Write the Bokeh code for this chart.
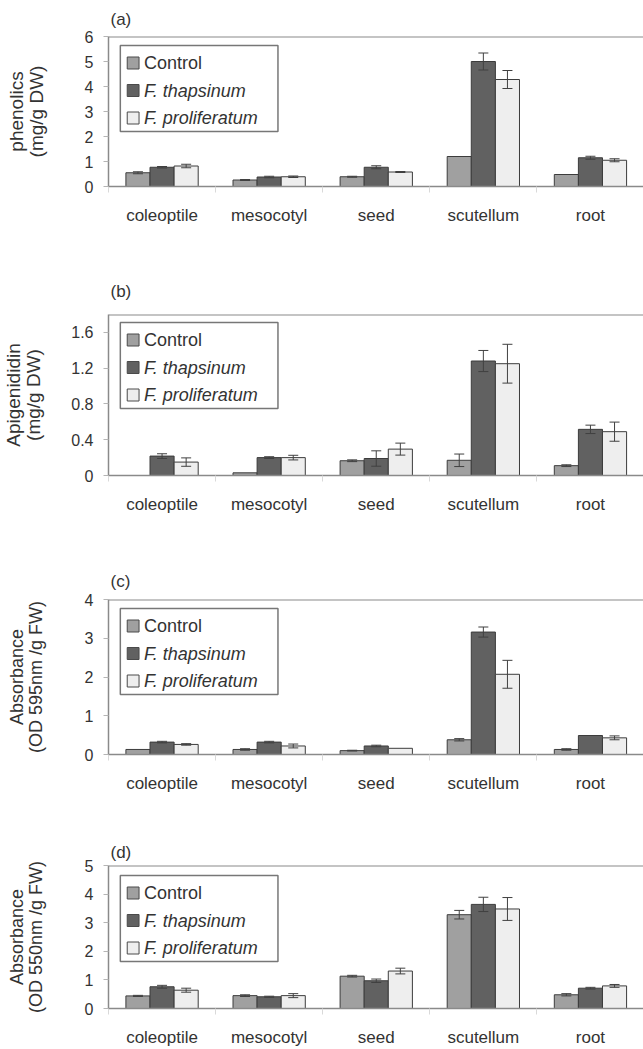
import numpy as np
from bokeh.plotting import figure
from bokeh.models import (ColumnDataSource, Range1d, FixedTicker, Whisker, TeeHead, Span)
from bokeh.core.properties import value
from bokeh.layouts import column
from bokeh.embed import file_html
from bokeh.resources import INLINE

# ---------------- data ----------------
categories = ["coleoptile", "mesocotyl", "seed", "scutellum", "root"]
series_names = ["Control", "F. thapsinum", "F. proliferatum"]

# (a) phenolics (mg/g DW)
a_control = [0.55, 0.26, 0.39, 1.20, 0.48]
a_control_err = [0.04, 0.02, 0.02, 0.0, 0.0]
a_thap = [0.77, 0.38, 0.77, 5.00, 1.15]
a_thap_err = [0.03, 0.03, 0.06, 0.34, 0.06]
a_prolif = [0.82, 0.39, 0.58, 4.28, 1.05]
a_prolif_err = [0.07, 0.03, 0.02, 0.36, 0.06]

# (b) Apigenididin (mg/g DW)
b_control = [0.0, 0.03, 0.165, 0.17, 0.11]
b_control_err = [0.0, 0.0, 0.01, 0.07, 0.01]
b_thap = [0.217, 0.20, 0.19, 1.28, 0.516]
b_thap_err = [0.026, 0.01, 0.086, 0.118, 0.047]
b_prolif = [0.15, 0.20, 0.295, 1.25, 0.49]
b_prolif_err = [0.047, 0.026, 0.067, 0.217, 0.107]

# (c) Absorbance (OD 595nm /g FW)
c_control = [0.13, 0.13, 0.10, 0.38, 0.13]
c_control_err = [0.0, 0.02, 0.01, 0.03, 0.02]
c_thap = [0.32, 0.32, 0.22, 3.16, 0.49]
c_thap_err = [0.02, 0.02, 0.02, 0.13, 0.0]
c_prolif = [0.26, 0.22, 0.16, 2.07, 0.43]
c_prolif_err = [0.02, 0.05, 0.0, 0.36, 0.05]

# (d) Absorbance (OD 550nm /g FW)
d_control = [0.44, 0.45, 1.13, 3.28, 0.48]
d_control_err = [0.02, 0.03, 0.03, 0.15, 0.04]
d_thap = [0.76, 0.41, 0.97, 3.64, 0.71]
d_thap_err = [0.05, 0.02, 0.06, 0.25, 0.03]
d_prolif = [0.64, 0.45, 1.31, 3.48, 0.79]
d_prolif_err = [0.07, 0.07, 0.10, 0.40, 0.05]

a_yticks = [0, 1, 2, 3, 4, 5, 6]
b_yticks = [0, 0.4, 0.8, 1.2, 1.6]
c_yticks = [0, 1, 2, 3, 4]
d_yticks = [0, 1, 2, 3, 4, 5]

# ---------------- style ----------------
FONT = "Liberation Sans"
TEXT = "#333333"
AXIS = "#8a8a8a"
BAR_LINE = "#3c3c3c"
COLORS = ["#a0a0a0", "#616161", "#eeeeee"]
OFFSETS = [-0.225, 0.0, 0.225]
BAR_W = 0.225

panels = [
    dict(tag="(a)", ylabel="phenolics\n(mg/g DW)", ymax=6, yticks=a_yticks,
         vals=[a_control, a_thap, a_prolif], errs=[a_control_err, a_thap_err, a_prolif_err],
         height=262, mbt=36, mbb=76, tstand=15, lab_size="19px", lab_stand=35, leg_top=9),
    dict(tag="(b)", ylabel="Apigenididin\n(mg/g DW)", ymax=1.8, yticks=b_yticks,
         vals=[b_control, b_thap, b_prolif], errs=[b_control_err, b_thap_err, b_prolif_err],
         height=290, mbt=52, mbb=77, tstand=27, lab_size="19px", lab_stand=24, leg_top=8),
    dict(tag="(c)", ylabel="Absorbance\n(OD 595nm /g FW)", ymax=4, yticks=c_yticks,
         vals=[c_control, c_thap, c_prolif], errs=[c_control_err, c_thap_err, c_prolif_err],
         height=270, mbt=47, mbb=68, tstand=17, lab_size="18px", lab_stand=36, leg_top=9),
    dict(tag="(d)", ylabel="Absorbance\n(OD 550nm /g FW)", ymax=5, yticks=d_yticks,
         vals=[d_control, d_thap, d_prolif], errs=[d_control_err, d_thap_err, d_prolif_err],
         height=227, mbt=43, mbb=41, tstand=7, lab_size="18px", lab_stand=36, leg_top=10),
]

WIDTH = 643
MBL = 100
UNIT = 108.7           # pixels per category
frame_w = WIDTH - MBL
x_end = -0.5 + frame_w / UNIT

# legend geometry in pixels (relative to the frame's top-left corner)
LEG_LEFT, LEG_W, LEG_H = 12, 160, 86
ROW_Y = [17.5, 45.0, 72.5]
SW_X0, SW_SIZE, TXT_X = 7, 12, 24


def make_panel(cfg):
    frame_h = cfg["height"] - cfg["mbt"] - cfg["mbb"]
    ymax = cfg["ymax"]
    ky = ymax / frame_h            # data units per pixel (y)
    kx = 1.0 / UNIT                # data units per pixel (x)
    x0 = -0.5

    p = figure(width=WIDTH, height=cfg["height"],
               x_range=Range1d(x0, x_end), y_range=Range1d(0, ymax),
               output_backend="svg", toolbar_location=None,
               min_border_left=MBL, min_border_right=0,
               min_border_top=cfg["mbt"], min_border_bottom=cfg["mbb"])
    p.outline_line_color = None
    p.grid.visible = False
    p.background_fill_color = "white"
    p.border_fill_color = "white"

    # panel tag as title
    p.title.text = cfg["tag"]
    p.title.align = "left"
    p.title.offset = 2
    p.title.standoff = cfg["tstand"]
    p.title.text_font = FONT
    p.title.text_font_size = "17px"
    p.title.text_font_style = "normal"
    p.title.text_color = TEXT

    xs = np.arange(len(categories), dtype=float)
    for k in range(3):
        src = ColumnDataSource(dict(x=xs + OFFSETS[k], top=cfg["vals"][k]))
        p.vbar(x="x", top="top", width=BAR_W, source=src,
               fill_color=COLORS[k], line_color=BAR_LINE, line_width=1)

    for k in range(3):
        v = np.array(cfg["vals"][k], dtype=float)
        e = np.array(cfg["errs"][k], dtype=float)
        m = e > 0
        wsrc = ColumnDataSource(dict(base=(xs + OFFSETS[k])[m], upper=(v + e)[m],
                                     lower=(v - e)[m]))
        w = Whisker(source=wsrc, base="base", upper="upper", lower="lower",
                    line_color="#404040", line_width=1,
                    upper_head=TeeHead(size=10, line_color="#404040", line_width=1),
                    lower_head=TeeHead(size=10, line_color="#404040", line_width=1))
        w.level = "annotation"
        p.add_layout(w)

    # top border of frame (right edge is cropped in the reference)
    p.add_layout(Span(location=ymax, dimension="width", line_color=AXIS, line_width=2))

    # legend (drawn manually so "Control" is upright and species names italic)
    lx = x0 + LEG_LEFT * kx
    ly = ymax - cfg["leg_top"] * ky
    p.quad(left=[lx], right=[lx + LEG_W * kx], top=[ly], bottom=[ly - LEG_H * ky],
           fill_color="white", line_color="#777777", line_width=1.5)
    sw_l = [lx + SW_X0 * kx] * 3
    sw_r = [lx + (SW_X0 + SW_SIZE) * kx] * 3
    sw_t = [ly - (r - SW_SIZE / 2) * ky for r in ROW_Y]
    sw_b = [ly - (r + SW_SIZE / 2) * ky for r in ROW_Y]
    p.quad(left=sw_l, right=sw_r, top=sw_t, bottom=sw_b,
           fill_color=COLORS, line_color="#4a4a4a", line_width=1)
    styles = ["normal", "italic", "italic"]
    for i, name in enumerate(series_names):
        p.text(x=[lx + TXT_X * kx], y=[ly - ROW_Y[i] * ky], text=[name],
               text_font=value(FONT), text_font_size="18px", text_color=TEXT,
               text_font_style=styles[i], text_align="left", text_baseline="middle")

    # x axis
    xa = p.xaxis[0]
    xa.ticker = FixedTicker(ticks=list(xs),
                            minor_ticks=[i - 0.5 for i in range(len(categories) + 1)])
    xa.major_label_overrides = {i: c for i, c in enumerate(categories)}
    xa.major_tick_line_color = None
    xa.major_tick_out = 0
    xa.major_tick_in = 0
    xa.minor_tick_line_color = "#d9d9d9"
    xa.minor_tick_out = 6
    xa.minor_tick_in = 0
    xa.axis_line_color = AXIS
    xa.axis_line_width = 1.5
    xa.major_label_text_font = FONT
    xa.major_label_text_font_size = "17px"
    xa.major_label_text_color = TEXT
    xa.major_label_standoff = 13

    # y axis
    ya = p.yaxis[0]
    ya.ticker = FixedTicker(ticks=cfg["yticks"], minor_ticks=[])
    ya.major_label_overrides = {0: "0"}
    ya.major_tick_out = 5
    ya.major_tick_in = 0
    ya.major_tick_line_color = "#b5b5b5"
    ya.minor_tick_line_color = None
    ya.axis_line_color = AXIS
    ya.axis_line_width = 1.5
    ya.major_label_text_font = FONT
    ya.major_label_text_font_size = "16px"
    ya.major_label_text_color = TEXT
    ya.major_label_standoff = 10
    ya.axis_label = cfg["ylabel"]
    ya.axis_label_text_font = FONT
    ya.axis_label_text_font_size = cfg["lab_size"]
    ya.axis_label_text_font_style = "normal"
    ya.axis_label_text_color = TEXT
    ya.axis_label_text_line_height = 0.95
    ya.axis_label_standoff = cfg["lab_stand"]
    return p


figs = [make_panel(c) for c in panels]
layout = column(*figs, spacing=0)
open("out.html", "w").write(file_html(layout, INLINE))
